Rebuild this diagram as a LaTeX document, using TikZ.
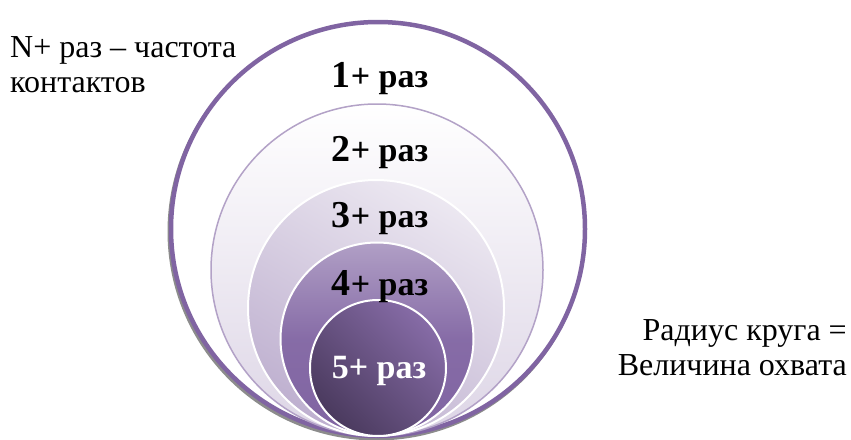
\documentclass[tikz,border=0pt]{standalone}
\usepackage{fontspec}
\setmainfont{Liberation Serif}
\begin{document}
\begin{tikzpicture}[x=1pt,y=-1pt,
  ring/.style={draw=white,line width=2pt},
  lbl/.style={anchor=base,font=\bfseries\fontsize{34}{36}\selectfont,inner sep=0pt},
  side/.style={font=\fontsize{32}{35}\selectfont,inner sep=0pt}]
\useasboundingbox (0,0) rectangle (851,439);
\definecolor{pOut}{HTML}{8064A2}
\definecolor{pLine}{HTML}{B3A2C7}
\newcommand{\dg}[1]{{\fontsize{38}{40}\selectfont #1}}
% shadow
\draw[line width=4pt,draw=black!45] (376.5,231.5) circle[radius=207];
% outer circle
\draw[line width=4.5pt,draw=pOut,fill=white] (378,229) circle[radius=207];
% circle 2
\shade[top color=white,bottom color=pLine!45] (377,270) circle[radius=166];
\draw[line width=1.5pt,draw=pLine] (377,270) circle[radius=166];
% circle 3
\shade[left color=pLine!25,right color=pLine!85,shading angle=-30] (376,308) circle[radius=128];
\draw[ring] (376,308) circle[radius=128];
% circle 4
\shade[top color=pOut!62,bottom color=pOut,middle color=pOut!95] (377,339) circle[radius=96.5];
\draw[ring] (377,339) circle[radius=96.5];
% circle 5
\shade[left color=pOut!95,right color=pOut!58!black,shading angle=-45] (378,368) circle[radius=68];
\draw[ring] (378,368) circle[radius=68];
% labels
\node[lbl] (l1) at (380,87) {\dg{1}+ раз};
\node[lbl] (l2) at (380,161) {\dg{2}+ раз};
\node[lbl] (l3) at (380,227) {\dg{3}+ раз};
\node[lbl] (l4) at (380,295) {\dg{4}+ раз};
\node[lbl,text=white] (l5) at (379,378) {5+ раз};
% side texts
\node[side,anchor=base west,align=left] (tl) at (10,92) {N+ раз – частота\\контактов};
\node[side,anchor=base east,align=right] (tr) at (847,375) {Радиус круга =\\Величина охвата};
\end{tikzpicture}
\end{document}
